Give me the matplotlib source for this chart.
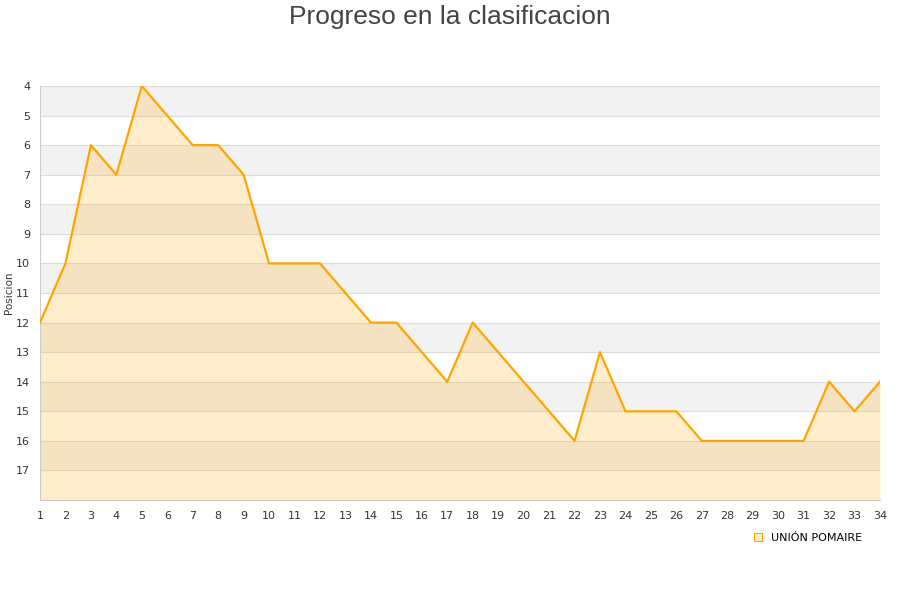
import matplotlib
matplotlib.use("Agg")
import matplotlib.pyplot as plt
from matplotlib.patches import Patch

jornadas = list(range(1, 35))
posiciones = [12, 10, 6, 7, 4, 5, 6, 6, 7, 10, 10, 10, 11, 12, 12, 13, 14, 12, 13, 14,
              15, 16, 13, 15, 15, 15, 16, 16, 16, 16, 16, 14, 15, 14]
equipo = "UNIÓN POMAIRE"
y_ticks = list(range(4, 18))

fig = plt.figure(figsize=(9, 6), dpi=100)
ax = fig.add_axes([40/900, 100/600, 840/900, 414/600])

ymin, ymax = 4, 18
for y in range(ymin, ymax):
    if (y - ymin) % 2 == 0:
        ax.axhspan(y, y + 1, color="#f2f2f2", zorder=0, lw=0)
for y in range(ymin, ymax + 1):
    ax.axhline(y, color="#dddddd", lw=0.8, zorder=1)

ax.fill_between(jornadas, posiciones, ymax, color="#ffa500", alpha=0.2, lw=0, zorder=2)
ax.plot(jornadas, posiciones, color="#ffa500", lw=1.6, zorder=3)

ax.set_xlim(1, 34)
ax.set_ylim(ymax, ymin)
ax.set_xticks(jornadas)
ax.set_xticklabels([str(j) for j in jornadas], fontsize=8, color="#333333")
ax.set_yticks(y_ticks)
ax.set_yticklabels([str(y) for y in y_ticks], fontsize=8, color="#333333")
ax.tick_params(length=0, pad=8)
ax.tick_params(axis="y", pad=7)
for s in ["top", "right"]:
    ax.spines[s].set_visible(False)
ax.spines["left"].set_color("#cccccc")
ax.spines["bottom"].set_color("#cccccc")
ax.set_ylabel("Posicion", fontsize=7.5, color="#333333")
ax.yaxis.set_label_coords(-26/840, 0.5)

fig.suptitle("Progreso en la clasificacion", fontsize=19, color="#444444", y=0.992,
             family="Liberation Sans")

handle = Patch(facecolor="#ffedcc", edgecolor="#ffa500", lw=0.8, label=equipo)
fig.legend(handles=[handle], loc="center", bbox_to_anchor=(808/900, 1 - 538/600),
           frameon=False, fontsize=8, handlelength=0.8, handleheight=0.8,
           handletextpad=0.8)

fig.savefig("out.png", dpi=100)
